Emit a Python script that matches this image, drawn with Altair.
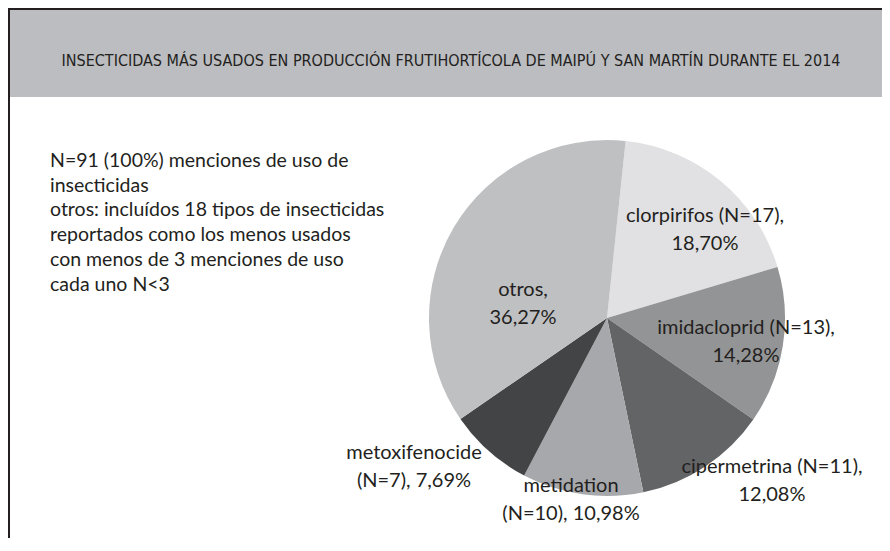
import math
import altair as alt
import pandas as pd

title = "INSECTICIDAS MÁS USADOS EN PRODUCCIÓN FRUTIHORTÍCOLA DE MAIPÚ Y SAN MARTÍN DURANTE EL 2014"
note = ("N=91 (100%) menciones de uso de\ninsecticidas\notros: incluídos 18 tipos de insecticidas\n"
        "reportados como los menos usados\ncon menos de 3 menciones de uso\ncada uno N<3")

names = ["clorpirifos", "imidacloprid", "cipermetrina", "metidation", "metoxifenocide", "otros"]
counts = [17, 13, 11, 10, 7, 33]
percents = [18.70, 14.28, 12.08, 10.98, 7.69, 36.27]
labels = [
    "clorpirifos (N=17),\n18,70%",
    "imidacloprid (N=13),\n14,28%",
    "cipermetrina (N=11),\n12,08%",
    "metidation\n(N=10), 10,98%",
    "metoxifenocide\n(N=7), 7,69%",
    "otros,\n36,27%",
]
colors = ["#e1e1e3", "#939496", "#636466", "#a7a8ab", "#434446", "#bfc0c2"]

df = pd.DataFrame({"name": names, "n": counts, "pct": percents,
                   "label": labels, "order": list(range(len(names)))})
meta = pd.DataFrame({"title": [title], "note": [note]})

W, H = 874, 530
CX, CY, R = 599, 310, 178
start = 6 * math.pi / 180
TEXT = "#231f20"
FONT = "Lato"

header = alt.Chart(meta).mark_rect(color="#bcbdc0").encode(
    x=alt.value(0), x2=alt.value(W), y=alt.value(2), y2=alt.value(89))
top_rule = alt.Chart(meta).mark_rule(color="#231f20", strokeWidth=2).encode(
    x=alt.value(0), x2=alt.value(W), y=alt.value(1))
left_rule = alt.Chart(meta).mark_rule(color="#231f20", strokeWidth=2).encode(
    x=alt.value(1), y=alt.value(0), y2=alt.value(H))

title_text = alt.Chart(meta).mark_text(
    font="DejaVu Sans Condensed", fontSize=16, color=TEXT, align="center", baseline="middle"
).encode(text="title:N", x=alt.value(443), y=alt.value(53))

note_text = alt.Chart(meta).mark_text(
    font=FONT, fontSize=19.5, color=TEXT, align="left", baseline="middle",
    lineBreak="\n", lineHeight=24.7
).encode(text="note:N", x=alt.value(42), y=alt.value(153))

pie = alt.Chart(df).mark_arc(outerRadius=R).encode(
    theta=alt.Theta("pct:Q", stack=True,
                    scale=alt.Scale(range=[start, start + 2 * math.pi], zero=True, nice=False)),
    color=alt.Color("name:N", scale=alt.Scale(domain=names, range=colors), legend=None),
    order=alt.Order("order:Q"),
    x=alt.value(CX), y=alt.value(CY),
)

label_pos = {
    "otros": (515, 282),
    "clorpirifos": (697, 208),
    "imidacloprid": (738, 320),
    "cipermetrina": (764, 459),
    "metidation": (563, 478),
    "metoxifenocide": (406, 445),
}
label_layers = []
for nm, (lx, ly) in label_pos.items():
    label_layers.append(
        alt.Chart(df).transform_filter(alt.datum.name == nm).mark_text(
            font=FONT, fontSize=20, color=TEXT, align="center", baseline="middle",
            lineBreak="\n", lineHeight=28
        ).encode(text="label:N", x=alt.value(lx), y=alt.value(ly))
    )

chart = alt.layer(header, top_rule, left_rule, title_text, note_text, pie, *label_layers).properties(
    width=W, height=H, padding=0, autosize=alt.AutoSizeParams(type="none")
).configure_view(stroke=None).configure(background="white")

chart.save("out.html", embed_options={"renderer": "svg", "actions": False})
